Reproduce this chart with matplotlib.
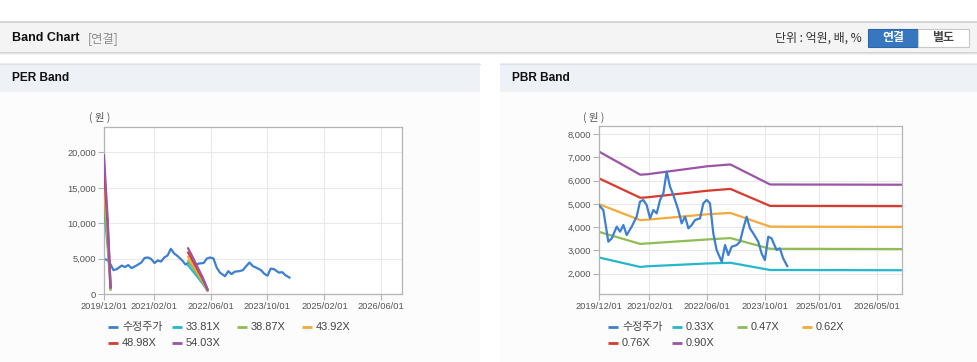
import matplotlib
matplotlib.use('Agg')
import matplotlib.pyplot as plt
import numpy as np
import pandas as pd
from matplotlib.patches import Rectangle

plt.rcParams['font.family'] = ['Liberation Sans', 'Noto Sans CJK KR', 'DejaVu Sans']

# ---------------- data ----------------
price_dates = ['2019-12-01', '2020-01-09', '2020-02-20', '2020-03-20', '2020-05-01', '2020-05-29',
               '2020-06-26', '2020-07-24', '2020-09-04', '2020-10-16', '2020-11-13', '2020-12-11',
               '2021-01-08', '2021-02-06', '2021-03-06', '2021-04-03', '2021-05-01', '2021-05-29',
               '2021-06-26', '2021-07-24', '2021-08-21', '2021-10-02', '2021-10-30', '2021-11-28',
               '2021-12-26', '2022-01-23', '2022-02-20', '2022-04-03', '2022-05-01', '2022-05-29',
               '2022-06-26', '2022-07-24', '2022-08-21', '2022-10-03', '2022-10-31', '2022-11-28',
               '2022-12-26', '2023-02-06', '2023-03-06', '2023-04-03', '2023-05-01', '2023-05-29',
               '2023-06-26', '2023-08-07', '2023-09-04', '2023-10-02', '2023-10-30', '2023-11-27',
               '2024-01-08', '2024-02-05', '2024-03-04', '2024-04-07']
price_values = [4950, 4735, 3375, 3518, 4020, 3804, 4090, 3660, 4020, 4449, 5093, 5165,
                4950, 4377, 4735, 4592, 5165, 5451, 6382, 5737, 5380, 4735, 4162, 4449,
                3947, 4090, 4305, 4377, 5021, 5165, 5021, 3732, 3017, 2516, 3232, 2802,
                3160, 3232, 3375, 3947, 4449, 3947, 3732, 3375, 2874, 2587, 3589, 3518,
                3017, 3089, 2659, 2329]

per_labels = ['33.81X', '38.87X', '43.92X', '48.98X', '54.03X']
per_band_dates = ['2019-12-01', '2019-12-09', '2019-12-17', '2019-12-25', '2020-01-02', '2020-01-10',
                  '2020-01-18', '2020-01-26', '2020-02-03',
                  '2021-11-21', '2021-12-15', '2022-01-08', '2022-02-01', '2022-02-25', '2022-03-21',
                  '2022-04-14', '2022-05-06']
nan = np.nan
per_band_1 = [12270, 10830, 9390, 8010, 6510, 4630, 2820, 630, nan,
              4040, 3570, 3070, 2570, 2070, 1560, 1000, 440]
per_band_2 = [14100, 12450, 10790, 9210, 7480, 5320, 3240, 720, nan,
              4640, 4100, 3530, 2950, 2370, 1800, 1150, 500]
per_band_3 = [15930, 14060, 12190, 10400, 8450, 6020, 3660, 810, nan,
              5240, 4630, 3980, 3330, 2680, 2030, 1300, 570]
per_band_4 = [17770, 15680, 13600, 11600, 9430, 6710, 4080, 910, nan,
              5850, 5170, 4440, 3720, 2990, 2270, 1450, 630]
per_band_5 = [19600, 17300, 15000, 12800, 10400, 7400, 4500, 1000, nan,
              6450, 5700, 4900, 4100, 3300, 2500, 1600, 700]

pbr_labels = ['0.33X', '0.47X', '0.62X', '0.76X', '0.90X']
pbr_band_dates = ['2019-12-01', '2020-11-15', '2021-01-15', '2022-06-01', '2022-12-15',
                  '2023-11-15', '2026-11-28']
pbr_band_1 = [2700, 2290, 2320, 2440, 2470, 2160, 2150]
pbr_band_2 = [3800, 3280, 3300, 3470, 3530, 3070, 3060]
pbr_band_3 = [4990, 4300, 4320, 4550, 4610, 4020, 4010]
pbr_band_4 = [6100, 5260, 5280, 5560, 5640, 4910, 4900]
pbr_band_5 = [7250, 6250, 6270, 6610, 6690, 5830, 5820]

per_xticks = ['2019-12-01', '2021-02-01', '2022-06-01', '2023-10-01', '2025-02-01', '2026-06-01']
pbr_xticks = ['2019-12-01', '2021-02-01', '2022-06-01', '2023-10-01', '2025-01-01', '2026-05-01']
per_yticks = [0, 5000, 10000, 15000, 20000]
pbr_yticks = [2000, 3000, 4000, 5000, 6000, 7000, 8000]

price_label = '수정주가'
colors = ['#3d7fd0', '#25b7cb', '#8fbc55', '#f4aa3c', '#d73a2e', '#9a55a6']

# ---------------- figure ----------------
W, H = 978, 362
fig = plt.figure(figsize=(W / 100, H / 100), dpi=100)
fig.patch.set_facecolor('white')

ov = fig.add_axes([0, 0, 1, 1], zorder=0)
ov.set_xlim(0, W)
ov.set_ylim(H, 0)
ov.axis('off')

KR = ['Noto Sans CJK KR', 'DejaVu Sans']

# top header
ov.add_patch(Rectangle((0, 22), W, 30, fc='#f4f4f4', ec='none'))
ov.plot([0, W], [22, 22], color='#cfcfcf', lw=1.2)
for i, a in enumerate([0.18, 0.10, 0.05]):
    ov.add_patch(Rectangle((0, 52 + i), W, 1, fc='black', alpha=a, ec='none'))
ov.text(12, 38, 'Band Chart', fontsize=9, weight='bold', va='center', color='#111111')
ov.text(88, 38.5, '[연결]', fontsize=8.8, va='center', color='#8a8a8a', family=KR)
ov.text(862, 38, '단위 : 억원, 배, %', fontsize=8.6, ha='right', va='center', color='#333333',
        family=KR)
ov.add_patch(Rectangle((868, 28.5), 50, 18.5, fc='#3677c0', ec='#2d67a8', lw=0.8))
ov.text(893, 38, '연결', fontsize=8.6, weight='bold', ha='center', va='center', color='white',
        family=KR)
ov.add_patch(Rectangle((918, 28.5), 51, 18.5, fc='white', ec='#c8c8c8', lw=0.8))
ov.text(943.5, 38, '별도', fontsize=8.6, weight='bold', ha='center', va='center', color='#444444',
        family=KR)

# panel headers
for x0, w, title in [(0, 480, 'PER Band'), (500, 478, 'PBR Band')]:
    ov.add_patch(Rectangle((x0, 92), w, 270, fc='#fcfcfc', ec='none'))
    ov.add_patch(Rectangle((x0, 63), w, 29, fc='#eef2f7', ec='none'))
    ov.plot([x0, x0 + w], [63.5, 63.5], color='#dde2ea', lw=1)
    ov.text(x0 + 12, 78, title, fontsize=8.6, weight='bold', va='center', color='#111111')


def make_axes(left, right, top, bottom):
    return fig.add_axes([left / W, 1 - bottom / H, (right - left) / W, (bottom - top) / H], zorder=2)


def style(ax, xticks, yticks, ylim, unit_x):
    ax.set_facecolor('white')
    ax.set_xlim(pd.Timestamp('2019-12-01'), pd.Timestamp('2026-11-28'))
    ax.set_ylim(*ylim)
    ax.set_xticks(pd.to_datetime(xticks))
    ax.set_xticklabels([t.replace('-', '/') for t in xticks])
    ax.set_yticks(yticks)
    ax.set_yticklabels([f'{v:,}' for v in yticks])
    ax.grid(True, color='#e9e9e9', lw=0.8)
    ax.set_axisbelow(True)
    for s in ax.spines.values():
        s.set_color('#b4b4b4')
        s.set_linewidth(0.9)
    ax.tick_params(axis='both', length=4, width=0.8, color='#b4b4b4', labelsize=6.7,
                   labelcolor='#555555')
    ax.tick_params(axis='y', pad=1.5)
    ax.tick_params(axis='x', pad=2)
    ov.text(unit_x, 117, '( 원 )', fontsize=7.5, va='center', color='#555555', family=KR)


# PER
ax1 = make_axes(104, 402, 127, 294)
ax1.plot(pd.to_datetime(price_dates), price_values, color=colors[0], lw=1.6, zorder=2)
for i, vals in enumerate([per_band_1, per_band_2, per_band_3, per_band_4, per_band_5]):
    ax1.plot(pd.to_datetime(per_band_dates), vals, color=colors[i + 1], lw=1.6, zorder=3)
style(ax1, per_xticks, per_yticks, (0, 23600), 89)

# PBR
ax2 = make_axes(598.7, 901.7, 126, 294)
for i, vals in enumerate([pbr_band_1, pbr_band_2, pbr_band_3, pbr_band_4, pbr_band_5]):
    ax2.plot(pd.to_datetime(pbr_band_dates), vals, color=colors[i + 1], lw=1.6, zorder=2)
ax2.plot(pd.to_datetime(price_dates), price_values, color=colors[0], lw=1.6, zorder=3)
style(ax2, pbr_xticks, pbr_yticks, (1130, 8340), 583)

# legends
col_x = [108, 172, 237, 302]
for x_off, labels in [(0, per_labels), (500, pbr_labels)]:
    items = [price_label] + labels
    for k, lab in enumerate(items):
        row, col = divmod(k, 4)
        x = col_x[col] + x_off
        y = 327 + row * 16
        ov.plot([x, x + 10], [y, y], color=colors[k], lw=2, solid_capstyle='butt')
        ov.text(x + 14, y, lab, fontsize=7.9, va='center', color='#444444',
                family=['Liberation Sans', 'Noto Sans CJK KR', 'DejaVu Sans'])

fig.savefig('out.png', dpi=100)
